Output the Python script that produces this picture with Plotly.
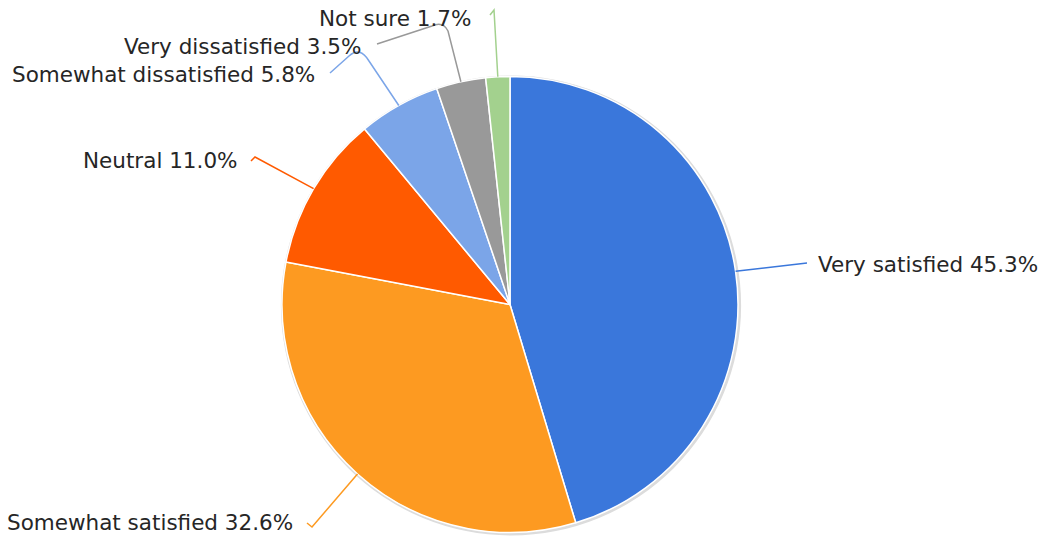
import math
import plotly.graph_objects as go

W, H = 1039, 539

# ---- data ----
labels = ["Very satisfied", "Somewhat satisfied", "Neutral",
          "Somewhat dissatisfied", "Very dissatisfied", "Not sure"]
values = [45.3, 32.6, 11.0, 5.8, 3.5, 1.7]
colors = ["#3a77db", "#fd9a21", "#ff5a00", "#7ba5e8", "#999999", "#a3d18e"]

# ---- layout (pixel geometry) ----
CX, CY, R = 510, 304.5, 228
# label anchor (x, y, xanchor) and leader-line tail path after the edge point
label_pos = [
    (816, 264, "left"),
    (295, 522, "right"),
    (240, 160, "right"),
    (317, 74, "right"),
    (363, 46, "right"),
    (473, 18, "right"),
]
tails = [
    "L807,263",
    "L312,527 L307,523",
    "L255,157 L251,161",
    "L369,61 Q360,46 349,56 L330,73",
    "L448,31 Q443,21 432,26 L377,44",
    "L494,10 L490,15",
]

fig = go.Figure()

# soft shadow behind the pie
fig.add_trace(go.Pie(
    values=[1], marker=dict(colors=["#dcdcdc"], line=dict(width=0)),
    textinfo="none", hoverinfo="skip", sort=False, showlegend=False,
    domain=dict(x=[(CX - R - 1) / W, (CX + R + 3) / W],
                y=[(H - CY - R - 3) / H, (H - CY + R + 1) / H]),
))

fig.add_trace(go.Pie(
    labels=labels, values=values, sort=False, direction="clockwise",
    rotation=0, textinfo="none", showlegend=False,
    marker=dict(colors=colors, line=dict(color="white", width=1.5)),
    domain=dict(x=[(CX - R) / W, (CX + R) / W],
                y=[(H - CY - R) / H, (H - CY + R) / H]),
))

total = sum(values)
cum = 0.0
shapes = []
annotations = []
for lab, v, col, (lx, ly, anc), tail in zip(labels, values, colors, label_pos, tails):
    mid = (cum + v / 2) / total * 2 * math.pi
    cum += v
    ex = CX + R * math.sin(mid)
    ey = CY - R * math.cos(mid)
    shapes.append(dict(type="path", xref="x", yref="y",
                       path=f"M{ex:.1f},{ey:.1f} {tail}",
                       line=dict(color=col, width=1.5)))
    annotations.append(dict(
        x=lx, y=ly, xref="x", yref="y", xanchor=anc, yanchor="middle",
        text=f"{lab} {v:.1f}%", showarrow=False,
        font=dict(family="DejaVu Sans", size=21.5, color="#262626")))

fig.update_layout(
    width=W, height=H, margin=dict(l=0, r=0, t=0, b=0),
    paper_bgcolor="white", plot_bgcolor="rgba(0,0,0,0)",
    xaxis=dict(range=[0, W], visible=False, fixedrange=True),
    yaxis=dict(range=[H, 0], visible=False, fixedrange=True),
    shapes=shapes, annotations=annotations, showlegend=False,
)

fig.write_html("out.html", config={"displayModeBar": False})
with open("out.html", encoding="utf-8") as f:
    html = f.read()
html = html.replace("<body>", '<body style="margin:0;overflow:hidden">', 1)
with open("out.html", "w", encoding="utf-8") as f:
    f.write(html)
